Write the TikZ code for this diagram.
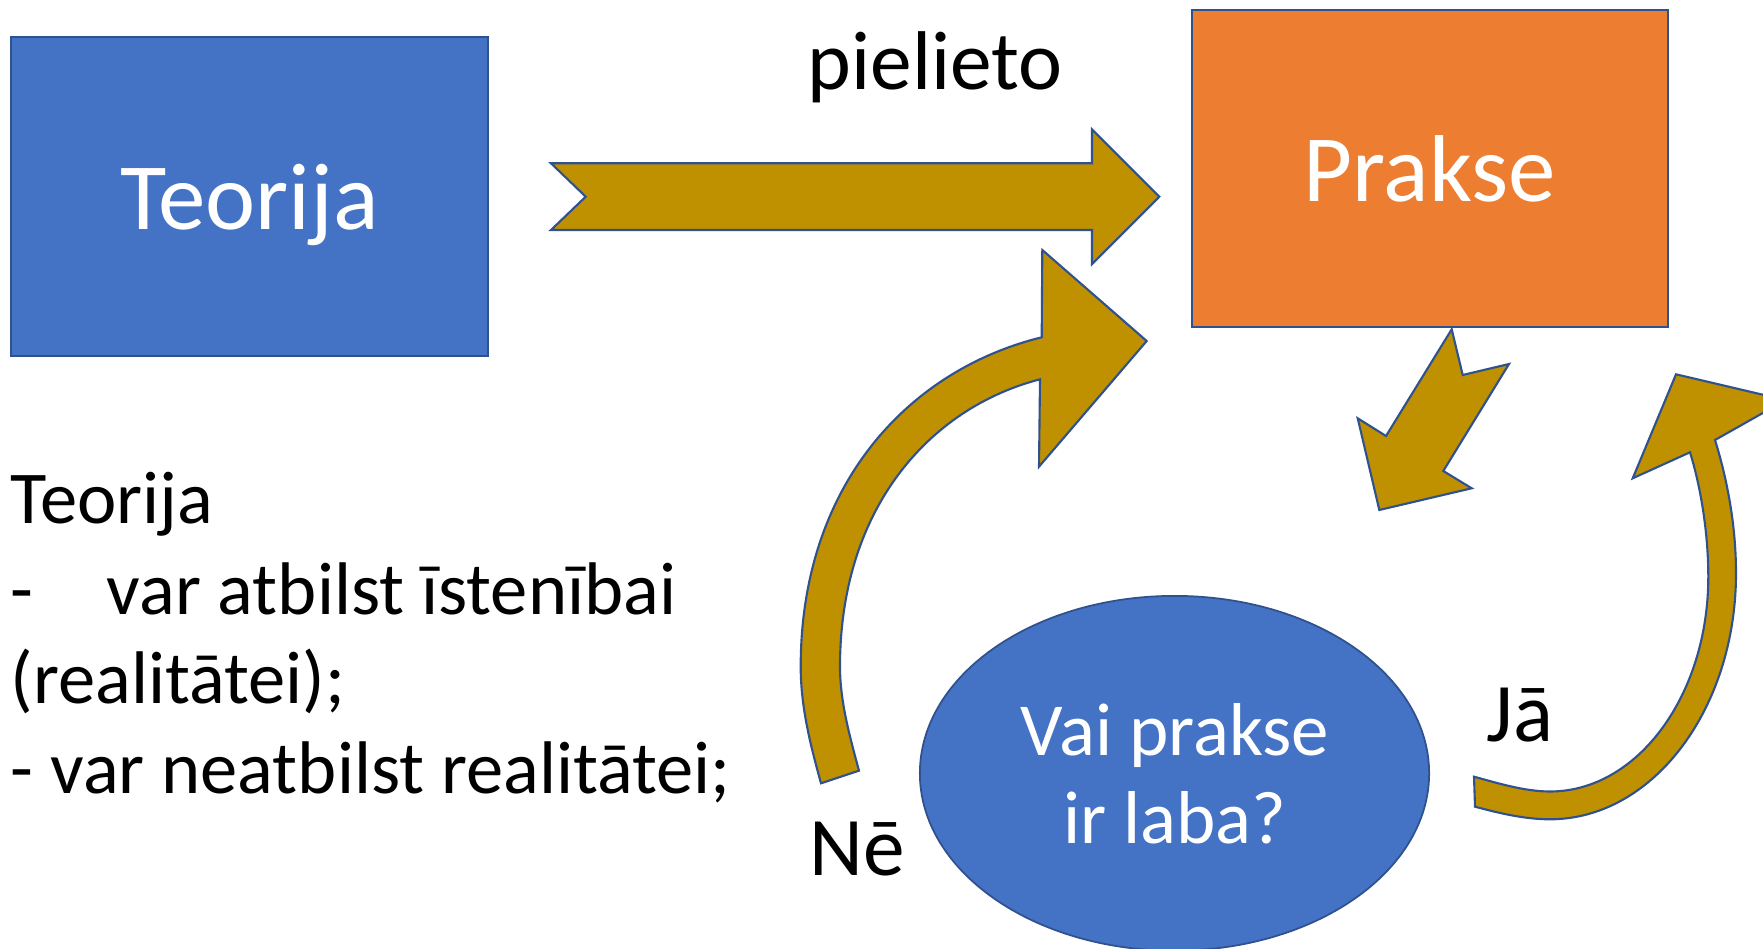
\documentclass[tikz,border=0pt]{standalone}
\usepackage{fontspec}
\setmainfont{Carlito}
\usetikzlibrary{shapes.geometric}
\definecolor{accblue}{HTML}{4472C4}
\definecolor{accorange}{HTML}{ED7D31}
\definecolor{accgold}{HTML}{BF9000}
\definecolor{edgeblue}{HTML}{2F528F}
\begin{document}
\begin{tikzpicture}[x=0.01cm,y=-0.01cm,
  box/.style={draw=edgeblue, line width=0.6pt, inner sep=0pt, text=white,
    font=\fontsize{27}{32}\selectfont, text height=0.66cm, text depth=0pt},
  blockarrow/.style={draw=edgeblue, fill=accgold, line width=0.6pt, line join=miter},
  lbl/.style={inner sep=0pt, anchor=base west, text=black, font=\fontsize{23.7}{28}\selectfont},
  lt/.style={inner sep=0pt, anchor=base west, text=black, font=\fontsize{21.2}{25}\selectfont},
  etext/.style={inner sep=0pt, anchor=base, text=white, font=\fontsize{21.3}{26}\selectfont}]
\useasboundingbox (0,0) rectangle (1763,949);

% boxes
\node[box, fill=accblue, minimum width=4.767cm, minimum height=3.193cm] (teo) at (249.35,196.35) {Teorija};
\node[box, fill=accorange, minimum width=4.76cm, minimum height=3.167cm] (prak) at (1429.7,168.35) {Prakse};

% ellipse
\node[ellipse, draw=edgeblue, fill=accblue, line width=0.5pt, inner sep=0pt,
  minimum width=5.09cm, minimum height=3.546cm] (q) at (1174.5,773.3) {};
\node[etext] (q1) at (1175,755) {Vai prakse};
\node[etext] (q2) at (1175,843.3) {ir laba?};

% straight notched arrow
\draw[blockarrow] (551,163.3) -- (1092,163.3) -- (1092,129.3) -- (1159.3,196.7)
  -- (1092,264.1) -- (1092,230) -- (551,230) -- (585.7,196.7) -- cycle;

% down-left notched arrow
\draw[blockarrow] (1451.7,329.3) -- (1462.7,375) -- (1509,364) -- (1443.3,471)
  -- (1471.7,488.3) -- (1379.3,510) -- (1357.7,418.3) -- (1386,436) -- cycle;

% curved arrow (Ne)
\draw[blockarrow] (1041.7,337.3) -- (1042.3,250) -- (1146.7,341) -- (1039,466.7) -- (1040,379.3)
  .. controls (929.6,408) and (840,508.1) .. (840,666.7)
  .. controls (840,701.7) and (849.9,736.9) .. (859,770.7)
  -- (821,783.3)
  .. controls (810.3,744.7) and (800.7,706.7) .. (800.7,666.7)
  .. controls (800.7,484.7) and (908.7,370) .. (1041.7,337.3)
  -- cycle;

% curved arrow (Ja)
\draw[blockarrow] (1474,776.7)
  .. controls (1499,783.5) and (1525,791.5) .. (1550,791.5)
  .. controls (1637.4,791.5) and (1708.3,695.3) .. (1708.3,576.7)
  .. controls (1708.3,536.7) and (1701.8,490.5) .. (1690,452.3)
  -- (1632.7,478.3) -- (1676,374.3) -- (1785.7,400.1) -- (1715,440)
  .. controls (1728.3,483) and (1736,528.3) .. (1736,573.3)
  .. controls (1736,709.1) and (1652.7,819.3) .. (1550,819.3)
  .. controls (1525,819.3) and (1500,813.4) .. (1475,806.7)
  -- cycle;

% labels
\node[lbl] (pielieto) at (807,90) {pielieto};
\node[lbl] (ja) at (1486,741.7) {Jā};
\node[lbl] (ne) at (809,875) {Nē};

% left text
\node[lt] (l1) at (10,524) {Teorija};
\node[lt] (l2) at (10,614) {\makebox[0.96cm][l]{-}var atbilst īstenībai};
\node[lt] (l3) at (10,703) {(realitātei);};
\node[lt] (l4) at (10,793) {- var neatbilst realitātei;};
\end{tikzpicture}
\end{document}
